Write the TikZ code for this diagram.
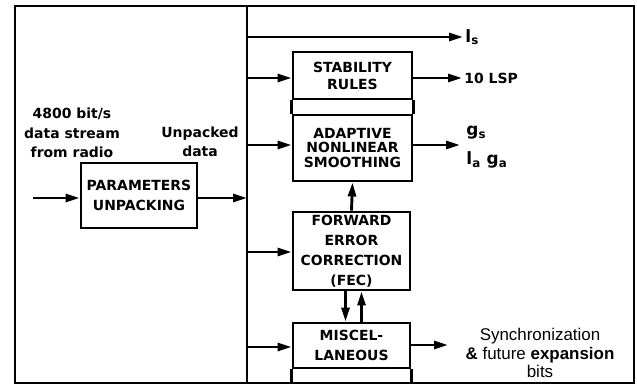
\documentclass[tikz,border=0pt]{standalone}
\usepackage{fontspec}
\setmainfont{DejaVu Sans}
\newfontfamily\plainfont{Liberation Sans}
\usetikzlibrary{arrows.meta}

\begin{document}
\begin{tikzpicture}[x=1bp, y=-1bp, line width=2.9bp,
  blok/.style={draw, align=center, inner sep=0pt,
    font=\fontsize{14}{#1}\selectfont\bfseries},
  blok/.default=17,
  flow/.style={-{Triangle[length=14bp,width=8bp]}},
  lab/.style={align=center, inner sep=1bp, font=\fontsize{14}{19.5}\selectfont\bfseries},
  sym/.style={anchor=west, inner sep=1bp, font=\fontsize{17}{19}\selectfont\bfseries}]
  \useasboundingbox (0,0) rectangle (637,386);

  % Frame and bus
  \draw (15,6) rectangle (634,383);
  \coordinate (bustop) at (247,6);
  \coordinate (busbot) at (247,383);
  \draw (bustop) -- (busbot);

  % Left side: unpacking
  \node[lab] (radio) at (72,133) {4800 bit/s\\data stream\\from radio};
  \node[lab] (unpk) at (200,142) {Unpacked\\data};
  \node[blok=20, minimum width=116bp, minimum height=65bp] (param) at (139,195.5) {PARAMETERS\\UNPACKING};
  \coordinate (inP) at (33,198);
  \coordinate (tapP) at (247,198);
  \draw[flow] (inP) -- (inP -| param.west);
  \draw[flow] (param.east |- tapP) -- (tapP);

  % Right side: processing blocks
  \node[blok, minimum width=119bp, minimum height=47bp] (stab) at (352.5,75.5) {STABILITY\\RULES};
  \node[blok=15, minimum width=119bp, minimum height=66bp] (adapt) at (352.5,148) {ADAPTIVE\\NONLINEAR\\SMOOTHING};
  \node[blok=20, minimum width=117bp, minimum height=78bp] (fec) at (351.5,251) {FORWARD\\ERROR\\CORRECTION\\(FEC)};
  \node[blok=20, minimum width=117bp, minimum height=45bp] (misc) at (351.5,345.5) {MISCEL-\\LANEOUS};
  \draw (stab.south west) -- (adapt.north west);
  \draw (stab.south east) -- (adapt.north east);
  \draw (misc.south west) -- (misc.south west |- busbot);
  \draw (misc.south east) -- (misc.south east |- busbot);

  % Bus taps
  \coordinate (tapL) at (247,37);
  \coordinate (tapS) at (247,78);
  \coordinate (tapA) at (247,145);
  \coordinate (tapF) at (247,252);
  \coordinate (tapM) at (247,347);
  \draw[flow] (tapS) -- (tapS -| stab.west);
  \draw[flow] (tapA) -- (tapA -| adapt.west);
  \draw[flow] (tapF) -- (tapF -| fec.west);
  \draw[flow] (tapM) -- (tapM -| misc.west);
  \draw[flow] (fec.north) -- (adapt.south);
  \draw[flow] ([xshift=-6bp]fec.south) -- ([xshift=-6bp]misc.north);
  \draw[flow] ([xshift=10bp]misc.north) -- ([xshift=10bp]fec.south);

  % Outputs
  \node[sym] (ls) at (463,37) {l\textsubscript{s}};
  \draw[flow] (tapL) -- (ls.west);
  \node[lab, anchor=west] (lsp) at (462,78) {10 LSP};
  \draw[flow] (stab.east |- lsp) -- (lsp.west);
  \node[sym] (gs) at (464,133) {g\textsubscript{s}};
  \node[sym] (lga) at (464,160) {l\textsubscript{a} g\textsubscript{a}};
  \coordinate (outA) at (460,145);
  \draw[flow] (adapt.east |- outA) -- (outA);
  \node[align=center, inner sep=1bp, font=\plainfont\fontsize{17}{18.5}\selectfont] (sync) at (540,353)
    {Synchronization\\\textbf{\&} future \textbf{expansion}\\bits};
  \coordinate (outM) at (448,345);
  \draw[flow] (misc.east |- outM) -- (outM);
\end{tikzpicture}
\end{document}
